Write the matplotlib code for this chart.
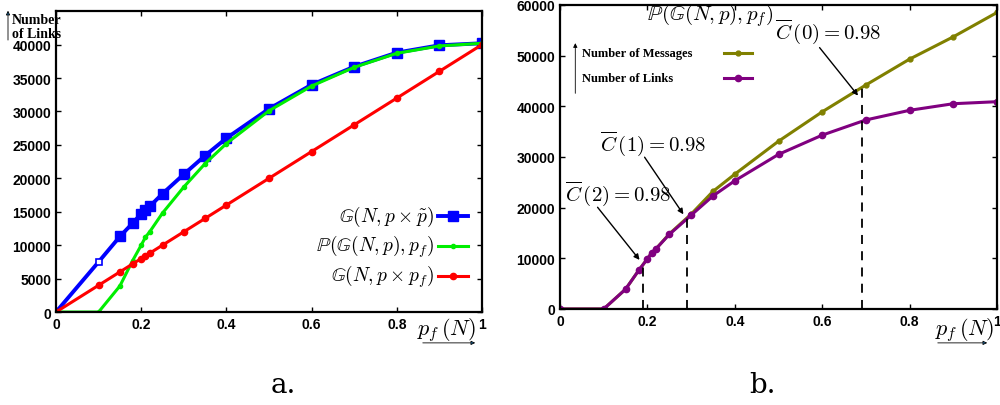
import numpy as np
import matplotlib
matplotlib.use("Agg")
import matplotlib.pyplot as plt

plt.rcParams["mathtext.fontset"] = "cm"
plt.rcParams["font.family"] = ["Liberation Sans", "DejaVu Sans"]

# --- data ---
pf = [0, 0.1, 0.15, 0.18, 0.2, 0.21, 0.22, 0.25, 0.3, 0.35, 0.4, 0.5, 0.6, 0.7, 0.8, 0.9, 1.0]
links_ptilde = [0, 7500, 11300, 13300, 14700, 15200, 15800, 17700, 20600, 23400, 26000,
                30400, 34000, 36700, 38800, 39900, 40200]
links_percol = [0, 0, 3900, 7700, 10000, 11200, 12000, 14800, 18700, 22200, 25200,
                30100, 33800, 36600, 38700, 39800, 40200]
links_pxpf = [0, 4000, 6000, 7200, 8000, 8400, 8800, 10000, 12000, 14000, 16000,
              20000, 24000, 28000, 32000, 36000, 40000]

messages = [0, 0, 3900, 7600, 9900, 11100, 11900, 14800, 18700, 23200, 26600,
            33100, 38900, 44200, 49300, 53700, 58500]
links_b = [0, 0, 3900, 7600, 9900, 11100, 11900, 14700, 18500, 22300, 25300,
           30500, 34300, 37300, 39200, 40500, 40900]
cut_x = [0.19, 0.29, 0.69]
cut_labels = [r"$\overline{C}\,(2) = 0.98$", r"$\overline{C}\,(1) = 0.98$", r"$\overline{C}\,(0) = 0.98$"]

fig = plt.figure(figsize=(10, 4.06), dpi=100)

# ---------------- panel a ----------------
ax1 = fig.add_axes([0.056, 0.229, 0.426, 0.741])
l1, = ax1.plot(pf, links_ptilde, color="blue", lw=2.8)
ax1.plot(pf[2:], links_ptilde[2:], ls="none", color="blue", marker="s", ms=7)
ax1.plot(pf[:2], links_ptilde[:2], ls="none", color="blue", marker="s", ms=4.5,
         mfc="white", mew=1.2)
l2, = ax1.plot(pf, links_percol, color="#00ee00", lw=2.2, marker="o", ms=3)
l3, = ax1.plot(pf, links_pxpf, color="red", lw=2.2, marker="o", ms=4.5)
ax1.set_xlim(0, 1)
ax1.set_ylim(0, 45000)
ax1.set_xticks([0, 0.2, 0.4, 0.6, 0.8, 1.0])
ax1.set_xticklabels(["0", "0.2", "0.4", "0.6", "0.8", "1"])
ax1.set_yticks(range(0, 40001, 5000))
ax1.tick_params(direction="in", top=True, right=True, labelsize=10, width=1)
for lab in ax1.get_xticklabels() + ax1.get_yticklabels():
    lab.set_fontweight("bold")
for s in ax1.spines.values():
    s.set_linewidth(1.6)

leg_rows = [(l1, "s", 7, r"$\mathbb{G}(N, p\times\tilde{p})$"),
            (l2, "o", 3, r"$\mathbb{P}(\mathbb{G}(N, p), p_f)$"),
            (l3, "o", 4.5, r"$\mathbb{G}(N, p\times p_f)$")]
for i, (ln, mk, ms, txt) in enumerate(leg_rows):
    yy = 0.32 - i * 0.1
    ax1.text(0.888, yy, txt, transform=ax1.transAxes, ha="right", va="center", fontsize=14)
    ax1.plot([0.897, 0.967], [yy, yy], transform=ax1.transAxes, color=ln.get_color(),
             lw=ln.get_linewidth(), clip_on=False)
    ax1.plot([0.932], [yy], transform=ax1.transAxes, color=ln.get_color(),
             marker=mk, ms=ms, clip_on=False)

fig.text(0.012, 0.932, "Number\nof Links", fontsize=10, fontweight="bold",
         family="Liberation Serif", va="center", linespacing=1.15)
fig.add_artist(matplotlib.patches.FancyArrowPatch((0.008, 0.892), (0.008, 0.978),
               transform=fig.transFigure, arrowstyle="-|>", mutation_scale=6, lw=0.6))
fig.text(0.447, 0.187, r"$p_f\,(N)$", fontsize=16, ha="center", va="center")
fig.add_artist(matplotlib.patches.FancyArrowPatch((0.42, 0.153), (0.478, 0.153),
               transform=fig.transFigure, arrowstyle="-|>", mutation_scale=6, lw=0.6))
fig.text(0.283, 0.05, "a.", fontsize=20, family="DejaVu Serif", ha="center", va="center")

# ---------------- panel b ----------------
ax2 = fig.add_axes([0.560, 0.2365, 0.437, 0.749])
m1, = ax2.plot(pf, messages, color="#808000", lw=2.2, marker="o", ms=3.5)
m2, = ax2.plot(pf, links_b, color="#800080", lw=2.2, marker="o", ms=4.5)
ax2.set_xlim(0, 1)
ax2.set_ylim(0, 60000)
ax2.set_xticks([0, 0.2, 0.4, 0.6, 0.8, 1.0])
ax2.set_xticklabels(["0", "0.2", "0.4", "0.6", "0.8", "1"])
ax2.set_yticks(range(0, 60001, 10000))
ax2.tick_params(direction="in", top=True, right=True, labelsize=10, width=1)
for lab in ax2.get_xticklabels() + ax2.get_yticklabels():
    lab.set_fontweight("bold")
for s in ax2.spines.values():
    s.set_linewidth(1.6)

cut_top = np.interp(cut_x, pf, messages)
for xc, yt in zip(cut_x, cut_top):
    ax2.plot([xc, xc], [0, yt], color="black", lw=1.3, ls=(0, (5, 4)))

# annotation placement: text anchor, arrow tail, arrow head offset from the cut point
text_pos = [(0.011, 22900), (0.092, 32800), (0.492, 54900)]
tail_pos = [(0.082, 20500), (0.19, 30400), (0.59, 52000)]
head_dy = [500, 300, -2000]
for (tx, ty), (ax_, ay_), dy, xc, yt, lab in zip(text_pos, tail_pos, head_dy, cut_x, cut_top, cut_labels):
    ax2.text(tx, ty, lab, fontsize=15, va="center")
    ax2.annotate("", xy=(xc - 0.004, yt + dy), xytext=(ax_, ay_),
                 arrowprops=dict(arrowstyle="-|>", lw=1, color="black", mutation_scale=8))

ax2.text(0.343, 58000, r"$\mathbb{P}(\mathbb{G}(N, p), p_f)$", fontsize=15, va="center",
         ha="center")
rows_b = [(m1, "Number of Messages", 50600), (m2, "Number of Links", 45500)]
for ln, txt, yy in rows_b:
    ax2.text(0.05, yy, txt, fontsize=9, fontweight="bold", family="Liberation Serif",
             va="center")
    ax2.plot([0.375, 0.44], [yy, yy], color=ln.get_color(), lw=ln.get_linewidth())
    ax2.plot([0.408], [yy], color=ln.get_color(), marker="o", ms=ln.get_markersize())
ax2.annotate("", xy=(0.035, 53000), xytext=(0.035, 42000),
             arrowprops=dict(arrowstyle="-|>", lw=0.6, color="black", mutation_scale=6))

fig.text(0.965, 0.187, r"$p_f\,(N)$", fontsize=16, ha="center", va="center")
fig.add_artist(matplotlib.patches.FancyArrowPatch((0.935, 0.153), (0.99, 0.153),
               transform=fig.transFigure, arrowstyle="-|>", mutation_scale=6, lw=0.6))
fig.text(0.762, 0.05, "b.", fontsize=20, family="DejaVu Serif", ha="center", va="center")

fig.savefig("out.png", dpi=100)
